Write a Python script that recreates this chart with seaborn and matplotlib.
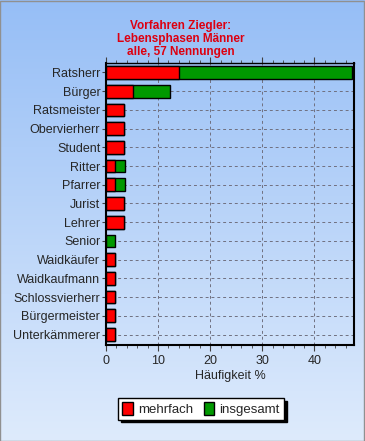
import numpy as np
import pandas as pd
import matplotlib
matplotlib.use("Agg")
import matplotlib.pyplot as plt
from matplotlib.patches import Rectangle, Patch
import seaborn as sns

# Lebensphasen, Häufigkeit in % von 57 Nennungen
berufe = ["Ratsherr", "Bürger", "Ratsmeister", "Obervierherr", "Student", "Ritter",
          "Pfarrer", "Jurist", "Lehrer", "Senior", "Waidkäufer", "Waidkaufmann",
          "Schlossvierherr", "Bürgermeister", "Unterkämmerer"]
mehrfach = [14.0, 5.3, 3.5, 3.5, 3.5, 1.8, 1.8, 3.5, 3.5, 0.0, 1.8, 1.8, 1.8, 1.8, 1.8]
insgesamt = [33.3, 7.0, 0.0, 0.0, 0.0, 1.8, 1.8, 0.0, 0.0, 1.8, 0.0, 0.0, 0.0, 0.0, 0.0]
x_ticks = [0, 10, 20, 30, 40]

df = pd.DataFrame({"Beruf": berufe, "mehrfach": mehrfach, "insgesamt": insgesamt})
df["gesamt"] = df["mehrfach"] + df["insgesamt"]

sns.set_style("white")
plt.rcParams["font.family"] = ["Liberation Sans", "DejaVu Sans"]

red = "#ff0000"
green = "#009900"

fig = plt.figure(figsize=(3.65, 4.41), dpi=100)

# gradient background
bg = fig.add_axes([0, 0, 1, 1], zorder=-10)
grad = np.linspace(0, 1, 256).reshape(-1, 1)
top_c = np.array([150, 190, 246]) / 255
bot_c = np.array([222, 235, 252]) / 255
img = top_c[None, None, :] * (1 - grad[:, :, None]) + bot_c[None, None, :] * grad[:, :, None]
bg.imshow(img, aspect="auto", extent=[0, 1, 0, 1])
bg.set_axis_off()
bg.add_patch(Rectangle((0.001, 0.001), 0.997, 0.997, fill=False, edgecolor="#909090",
                       linewidth=1, transform=bg.transAxes))

ax = fig.add_axes([0.290, 0.218, 0.680, 0.639])
ax.set_facecolor("none")

sns.barplot(data=df, x="gesamt", y="Beruf", color=green, orient="h", ax=ax,
            width=0.68, edgecolor="black", linewidth=1, saturation=1)
sns.barplot(data=df[df["mehrfach"] > 0], x="mehrfach", y="Beruf", order=berufe,
            color=red, orient="h", ax=ax, width=0.68, edgecolor="black",
            linewidth=1, saturation=1)

ax.set_xlim(0, 47.6)
ax.set_ylim(len(berufe) - 0.45, -0.5)
ax.set_xticks(x_ticks)
ax.set_xticks(np.arange(0, 48, 2), minor=True)
ax.tick_params(axis="x", which="major", direction="out", length=4, labelsize=9,
               top=True, bottom=True, color="#404040")
ax.tick_params(axis="x", which="minor", direction="out", length=2,
               top=True, bottom=True, color="#404040")
ax.tick_params(axis="y", direction="out", length=3, labelsize=9, left=True, pad=1,
               color="#404040")
ax.grid(True, axis="both", linestyle=(0, (3, 3)), color="#707080", linewidth=0.7)
ax.set_axisbelow(True)
for s in ax.spines.values():
    s.set_color("black")
    s.set_linewidth(1.5)
ax.spines["top"].set_linewidth(1)

ax.set_ylabel("")
ax.set_xlabel("Häufigkeit %", fontsize=9, labelpad=2)

fig.text(0.495, 0.869, "Vorfahren Ziegler:\nLebensphasen Männer\nalle, 57 Nennungen",
         ha="center", va="bottom", color="#dd0010", fontsize=8.5, fontweight="bold",
         linespacing=1.12)

handles = [Patch(facecolor=red, edgecolor="black"), Patch(facecolor=green, edgecolor="black")]
leg = fig.legend(handles, ["mehrfach", "insgesamt"], ncol=2, loc="center",
                 bbox_to_anchor=(0.551, 0.073), fontsize=9.5, frameon=True, fancybox=False,
                 shadow={"color": "black", "alpha": 1}, handlelength=0.8, handleheight=1.1,
                 handletextpad=0.4, columnspacing=0.8, borderpad=0.3, borderaxespad=0)
leg.get_frame().set_edgecolor("black")
leg.get_frame().set_facecolor("white")
leg.get_frame().set_linewidth(1)

fig.savefig("out.png", dpi=100)
